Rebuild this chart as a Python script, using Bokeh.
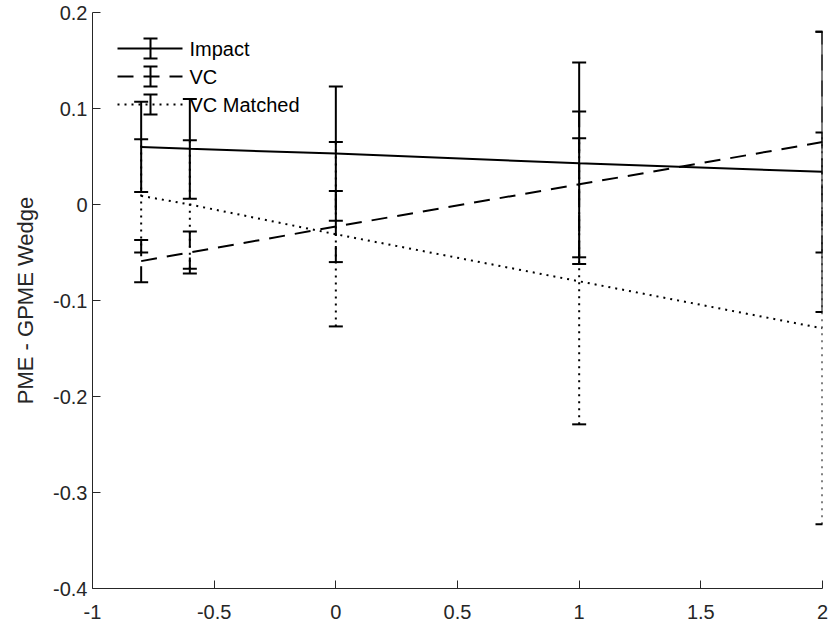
from bokeh.plotting import figure
from bokeh.models import (ColumnDataSource, Whisker, TeeHead, FixedTicker,
                          CustomJSTickFormatter, Range1d, Label, Arrow)
from bokeh.embed import file_html
from bokeh.resources import INLINE

# Wedge values and their error half-widths at each position
x_vals = [-0.8, -0.6, 0.0, 1.0, 2.0]
impact = [0.060, 0.058, 0.053, 0.043, 0.034]
impact_err = [0.047, 0.052, 0.070, 0.105, 0.146]
vc = [-0.059, -0.050, -0.023, 0.021, 0.065]
vc_err = [0.022, 0.022, 0.037, 0.076, 0.115]
vc_matched = [0.009, 0.000, -0.031, -0.080, -0.129]
vc_matched_err = [0.059, 0.067, 0.096, 0.149, 0.204]

series_names = ["Impact", "VC", "VC Matched"]
series_dash = ["solid", "16 10", "2 5"]
x_ticks = [-1, -0.5, 0, 0.5, 1, 1.5, 2]
y_ticks = [-0.4, -0.3, -0.2, -0.1, 0, 0.1, 0.2]

FONT = "Liberation Sans"
INK = "#000000"
AXIS_INK = "#262626"

p = figure(width=828, height=629,
           x_range=Range1d(-1, 2), y_range=Range1d(-0.4, 0.2),
           output_backend="svg", toolbar_location=None,
           min_border_left=92, min_border_right=6,
           min_border_top=12, min_border_bottom=41)
p.outline_line_color = None
p.xgrid.visible = False
p.ygrid.visible = False
p.background_fill_color = "white"
p.border_fill_color = "white"

fmt = CustomJSTickFormatter(code="return String(Math.round(tick * 10) / 10);")
for ax, ticks in ((p.xaxis[0], x_ticks), (p.yaxis[0], y_ticks)):
    ax.ticker = FixedTicker(ticks=ticks)
    ax.formatter = fmt
    ax.major_tick_in = 8
    ax.major_tick_out = 0
    ax.minor_tick_line_color = None
    ax.axis_line_color = AXIS_INK
    ax.major_tick_line_color = AXIS_INK
    ax.major_label_text_font = FONT
    ax.major_label_text_font_size = "20px"
    ax.major_label_text_color = AXIS_INK

p.xaxis.major_label_standoff = 16
p.yaxis.major_label_standoff = 5
p.yaxis.axis_label = "PME - GPME Wedge"
p.yaxis.axis_label_text_font = FONT
p.yaxis.axis_label_text_font_size = "22px"
p.yaxis.axis_label_text_font_style = "normal"
p.yaxis.axis_label_text_color = AXIS_INK
p.yaxis.axis_label_standoff = 12

all_series = [(impact, impact_err), (vc, vc_err), (vc_matched, vc_matched_err)]
for (vals, errs), name, dash in zip(all_series, series_names, series_dash):
    src = ColumnDataSource(dict(
        x=x_vals, y=vals,
        upper=[v + e for v, e in zip(vals, errs)],
        lower=[v - e for v, e in zip(vals, errs)],
    ))
    p.line("x", "y", source=src, line_color=INK, line_width=2, line_dash=dash)
    p.add_layout(Whisker(
        source=src, base="x", upper="upper", lower="lower", dimension="height",
        line_color=INK, line_width=2, line_dash=dash,
        upper_head=TeeHead(size=14, line_width=2, line_color=INK),
        lower_head=TeeHead(size=14, line_width=2, line_color=INK),
    ))

# Legend drawn in screen units in the upper-left corner of the frame
frame_h = 576
for i, (name, dash) in enumerate(zip(series_names, series_dash)):
    cy = frame_h - (36 + 28 * i)
    p.add_layout(Arrow(start=None, end=None,
                       x_start=25, y_start=cy, x_end=90, y_end=cy,
                       start_units="screen", end_units="screen",
                       line_color=INK, line_width=2, line_dash=dash))
    leg_src = ColumnDataSource(dict(base=[58], upper=[cy + 10], lower=[cy - 10]))
    p.add_layout(Whisker(
        source=leg_src, base="base", upper="upper", lower="lower",
        dimension="height", base_units="screen",
        upper_units="screen", lower_units="screen",
        line_color=INK, line_width=2,
        upper_head=TeeHead(size=14, line_width=2, line_color=INK),
        lower_head=TeeHead(size=14, line_width=2, line_color=INK),
    ))
    p.add_layout(Label(x=97, y=cy, x_units="screen", y_units="screen",
                       text=name, text_font=FONT, text_font_size="20px",
                       text_color=INK, text_baseline="middle", text_align="left"))

open("out.html", "w").write(file_html(p, INLINE))
